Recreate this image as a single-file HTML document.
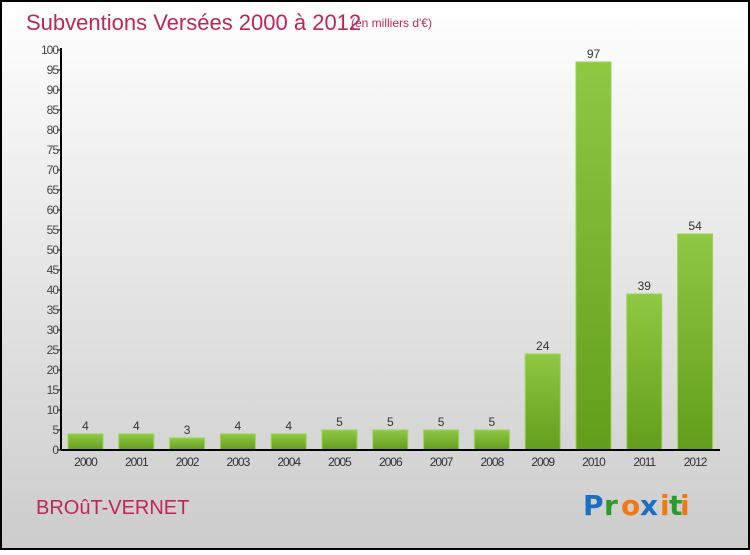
<!DOCTYPE html>
<html><head><meta charset="utf-8"><style>
body{margin:0;width:750px;height:550px;overflow:hidden;font-family:"Liberation Sans",sans-serif}
</style></head><body>
<svg width="750" height="550" xmlns="http://www.w3.org/2000/svg">
<defs>
<linearGradient id="bg" x1="0" y1="0" x2="0" y2="1"><stop offset="0" stop-color="#ffffff"/><stop offset="1" stop-color="#cccccc"/></linearGradient>
<linearGradient id="bar" x1="0" y1="0" x2="0" y2="1"><stop offset="0" stop-color="#8fc843"/><stop offset="1" stop-color="#639e1a"/></linearGradient>
</defs>
<rect x="1" y="1" width="748" height="548" fill="url(#bg)" stroke="#000" stroke-width="2"/>
<text x="26" y="30" font-size="22" fill="#c0245c">Subventions Versées 2000 à 2012</text>
<text x="351" y="27" font-size="12" fill="#c0245c">(en milliers d'€)</text>
<g id="plot"></g>
<text x="36" y="514" font-size="20" fill="#c0245c">BROûT-VERNET</text>
<g font-size="28" font-weight="bold" font-family="'DejaVu Sans',sans-serif">
<text x="583" y="515" fill="#1a6fc0">P</text><text x="604" y="515" fill="#2a9a2a">r</text><text x="621" y="515" fill="#f07a10">o</text><text x="640" y="515" fill="#1a6fc0">x</text><text x="660" y="515" fill="#f07a10">i</text><text x="669" y="515" fill="#2a9a2a">t</text><text x="680" y="515" fill="#f07a10">i</text>
</g>
</svg>
<script>
const categories=["2000","2001","2002","2003","2004","2005","2006","2007","2008","2009","2010","2011","2012"];
const values=[4,4,3,4,4,5,5,5,5,24,97,39,54];
const yTicks=[0,5,10,15,20,25,30,35,40,45,50,55,60,65,70,75,80,85,90,95,100];
const NS="http://www.w3.org/2000/svg";
const g=document.getElementById('plot');
const y0=450,yTop=50,yMax=100,x0=61,x1=720;
const yS=v=>y0-(v/yMax)*(y0-yTop);
const step=50.8,first=85.5,bw=35;
const xS=i=>first+i*step;
function mk(t,a){const e=document.createElementNS(NS,t);for(const k in a)e.setAttribute(k,a[k]);g.appendChild(e);return e;}
yTicks.forEach(v=>{
 const l=mk('line',{x1:x0-4,x2:x0,y1:yS(v),y2:yS(v),stroke:'#000'});
 
 
 const t=mk('text',{x:x0-3,y:yS(v)+4,'font-size':12,fill:'#444','text-anchor':'end','letter-spacing':'-1'});
 t.textContent=v;
 
 
});
categories.forEach((c,i)=>{
 const v=values[i],x=xS(i);
 const r=mk('rect',{x:x-bw/2,y:yS(v),width:bw,height:y0-yS(v),fill:'url(#bar)',stroke:'#9ad64e','stroke-width':1});
 
 
 const vl=mk('text',{x:x,y:yS(v)-4,'font-size':12,fill:'#333','text-anchor':'middle'});
 vl.textContent=v;
 
 
 const xl=mk('text',{x:x,y:466,'font-size':12,fill:'#333','text-anchor':'middle','letter-spacing':'-1'});
 xl.textContent=c;
 
 
});
const ya=mk('line',{x1:x0,x2:x0,y1:yTop-2,y2:y0,stroke:'#000','stroke-width':2});


const xa=mk('line',{x1:x0,x2:x1,y1:y0,y2:y0,stroke:'#000','stroke-width':2});


</script>
</body></html>
